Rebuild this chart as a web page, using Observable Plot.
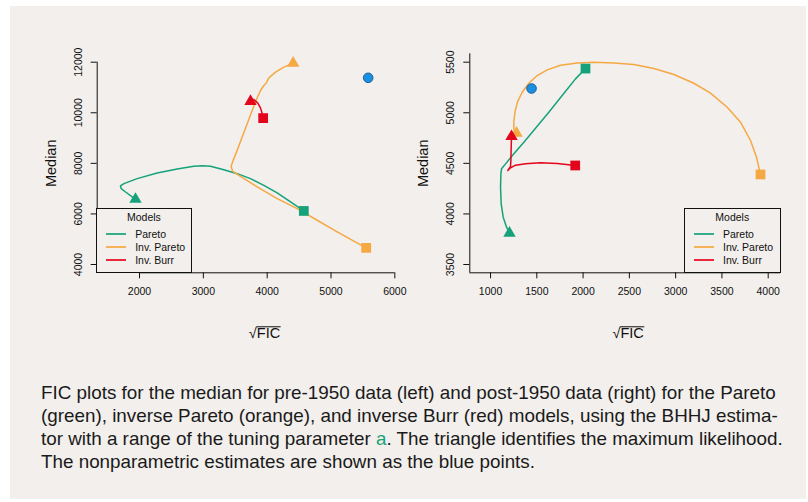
<!DOCTYPE html>
<html>
<head>
<meta charset="utf-8">
<script src="https://cdn.jsdelivr.net/npm/d3@7"></script>
<script src="https://cdn.jsdelivr.net/npm/@observablehq/plot@0.6"></script>
<style>
  body { margin: 0; background: #ffffff; font-family: "Liberation Sans", Arial, Helvetica, sans-serif; }
  #bg { position: absolute; left: 10px; top: 6px; width: 796px; height: 493px; background: #f2efec; }
  .panel { position: absolute; top: 0; }
  .legend { position: absolute; box-sizing: border-box; border: 1px solid #111; background: #f2efec; height: 65px; font-size: 10.5px; color: #111; }
  .legend .ttl { position: absolute; left: 0; right: 0; text-align: center; height: 12px; line-height: 12px; }
  .legend .lbl { position: absolute; height: 12px; line-height: 12px; white-space: nowrap; }
  .legend .sw { position: absolute; height: 2px; width: 20px; }
  #caption { position: absolute; left: 41px; top: 381px; font-size: 16.5px; line-height: 23px; color: #1a1a1a; white-space: nowrap; }
  #caption div { height: 23px; }
  #caption .a { color: #1aa37b; }
</style>
</head>
<body>
<div id="bg"></div>
<div id="left" class="panel" style="left:0px"></div>
<div id="right" class="panel" style="left:404px"></div>
<div id="caption">
  <div><span id="line1">FIC plots for the median for pre-1950 data (left) and post-1950 data (right) for the Pareto</span></div>
  <div>(green), inverse Pareto (orange), and inverse Burr (red) models, using the BHHJ estima-</div>
  <div>tor with a range of the tuning parameter <span class="a">a</span>. The triangle identifies the maximum likelihood.</div>
  <div>The nonparametric estimates are shown as the blue points.</div>
</div>
<script>
const bgColor = "#f2efec";
const models = ["Pareto", "Inv. Pareto", "Inv. Burr"];
const modelColors = ["#15a27a", "#f6a843", "#e3051b"];
const npColor = "#1b8fe2";

// ---------- left panel: pre-1950 ----------
const xTicksL = [2000, 3000, 4000, 5000, 6000];
const yTicksL = [4000, 6000, 8000, 10000, 12000];
const leftPareto = [[1937,6579],[1885,6671],[1781,6868],[1713,7000],[1702,7105],[1755,7197],[1963,7395],[2277,7618],[2590,7776],[2851,7882],[2982,7908],[3112,7882],[3321,7750],[3530,7592],[3739,7395],[3948,7132],[4157,6829],[4366,6474],[4574,6118]];
const leftInvPareto = [[4407,11961],[4261,11803],[4131,11605],[4026,11382],[3984,11171],[3948,11079],[3896,10882],[3843,10592],[3765,10092],[3687,9566],[3608,9039],[3530,8513],[3467,8118],[3436,7882],[3457,7697],[3582,7487],[3843,7066],[4157,6605],[4470,6211],[4783,5750],[5097,5289],[5358,4921],[5551,4658]];
const leftInvBurr = [[3739,10447],[3791,10526],[3854,10382],[3896,10184],[3927,9934],[3937,9789]];
const leftML = [[1937,6579],[4407,11961],[3739,10447]];   // triangles: Pareto, Inv. Pareto, Inv. Burr
const leftEnd = [[4574,6118],[5551,4658],[3937,9789]];    // squares
const leftNonpar = [[5582,11382]];

// ---------- right panel: post-1950 ----------
const xTicksR = [1000, 1500, 2000, 2500, 3000, 3500, 4000];
const yTicksR = [3500, 4000, 4500, 5000, 5500];
const rightPareto = [[1205,3810],[1173,3869],[1137,3968],[1115,4100],[1108,4264],[1112,4396],[1119,4446],[1162,4495],[1252,4594],[1360,4709],[1486,4848],[1630,5006],[1774,5171],[1918,5335],[2026,5437]];
const rightInvPareto = [[1252,4831],[1252,4923],[1267,5022],[1295,5115],[1342,5203],[1414,5292],[1504,5368],[1612,5424],[1756,5470],[1936,5493],[2116,5500],[2333,5493],[2549,5477],[2765,5437],[2981,5378],[3197,5292],[3377,5194],[3557,5055],[3701,4907],[3809,4726],[3874,4561],[3910,4413],[3917,4390]];
const rightInvBurr = [[1227,4765],[1223,4660],[1220,4528],[1216,4469],[1187,4429],[1216,4456],[1270,4482],[1378,4495],[1540,4505],[1720,4498],[1915,4479]];
const rightML = [[1205,3810],[1281,4798],[1227,4765]];
const rightEnd = [[2026,5437],[3917,4390],[1915,4479]];
const rightNonpar = [[1443,5240]];

const font = '"Liberation Sans", Arial, Helvetica, sans-serif';

function panel(o) {
  const marks = [];
  const ax = "#111";
  if (o.box) {
    marks.push(Plot.ruleX([o.xDomain[0]], {stroke: ax}));
    marks.push(Plot.ruleY([o.yDomain[0]], {stroke: ax}));
  } else {
    marks.push(Plot.ruleX([o.xDomain[0]], {y1: d3.min(o.yTicks), y2: d3.max(o.yTicks), stroke: ax}));
    marks.push(Plot.ruleY([o.yDomain[0]], {x1: d3.min(o.xTicks), x2: d3.max(o.xTicks), stroke: ax}));
  }
  marks.push(Plot.axisX({ticks: o.xTicks, tickSize: 6, tickFormat: () => "", label: null, stroke: ax}));
  marks.push(Plot.axisY({ticks: o.yTicks, tickSize: 6, tickFormat: () => "", label: null, stroke: ax}));
  marks.push(Plot.text(o.xTicks, {x: d => d, text: d => String(d), frameAnchor: "bottom", dy: 18.4, lineAnchor: "middle", textAnchor: "middle", fontSize: 10.5, fill: "#111"}));
  marks.push(Plot.text(o.yTicks, {y: d => d, text: d => String(d), frameAnchor: "left", dx: o.yLabDx, rotate: -90, lineAnchor: "middle", textAnchor: "middle", fontSize: 10.5, fill: "#111"}));
  marks.push(Plot.text(["Median"], {frameAnchor: "left", dx: -46, rotate: -90, lineAnchor: "middle", textAnchor: "middle", fontSize: 14.5, fill: "#111"}));
  marks.push(Plot.text(["\u221AFIC"], {frameAnchor: "bottom", dx: o.xLabDx, dy: 61, lineAnchor: "middle", textAnchor: "middle", fontSize: 14.5, fill: "#111"}));
  o.curves.forEach((c, i) => marks.push(Plot.line(c, {x: d => d[0], y: d => d[1], stroke: modelColors[i], strokeWidth: 1.5})));
  o.tri.forEach((p, i) => marks.push(Plot.dot([p], {x: d => d[0], y: d => d[1], symbol: "triangle", r: 4.6, fill: modelColors[i]})));
  o.sq.forEach((p, i) => marks.push(Plot.dot([p], {x: d => d[0], y: d => d[1], symbol: "square", r: 5.5, fill: modelColors[i]})));
  marks.push(Plot.dot(o.np, {x: d => d[0], y: d => d[1], r: 4.8, fill: npColor, stroke: "#1a5f9e", strokeWidth: 1}));
  return Plot.plot({
    width: o.width, height: 350,
    marginLeft: o.mLeft, marginRight: o.mRight, marginTop: 53.3, marginBottom: 77.7,
    x: {domain: o.xDomain, label: null},
    y: {domain: o.yDomain, label: null},
    style: {background: "transparent", fontFamily: font, overflow: "visible", color: "#111"},
    marks
  });
}

function addRadicalBar(svg) {
  svg.querySelectorAll("text").forEach(t => {
    if (t.textContent === "\u221AFIC") {
      const bb = t.getBBox();
      const rw = t.getSubStringLength(0, 1);
      const ns = "http://www.w3.org/2000/svg";
      const ln = document.createElementNS(ns, "line");
      const fs = 14.5;
      const yTop = bb.y + bb.height - 0.21 * fs - 0.80 * fs;
      ln.setAttribute("x1", bb.x + rw - 0.5);
      ln.setAttribute("x2", bb.x + bb.width + 0.5);
      ln.setAttribute("y1", yTop);
      ln.setAttribute("y2", yTop);
      ln.setAttribute("stroke", "#111");
      ln.setAttribute("stroke-width", "1");
      if (t.getAttribute("transform")) ln.setAttribute("transform", t.getAttribute("transform"));
      t.parentNode.appendChild(ln);
    }
  });
}

function legend(container, left, width) {
  const box = document.createElement("div");
  box.className = "legend";
  box.style.left = left + "px";
  box.style.top = "208px";
  box.style.width = width + "px";
  const ttl = document.createElement("div");
  ttl.className = "ttl"; ttl.style.top = (8.7 - 6 - 1) + "px"; ttl.textContent = "Models";
  box.appendChild(ttl);
  const rows = [25.7, 39, 52.3];
  models.forEach((m, i) => {
    const sw = document.createElement("div");
    sw.className = "sw"; sw.style.left = "8.5px"; sw.style.top = (rows[i] - 1 - 1) + "px";
    sw.style.background = modelColors[i]; sw.style.opacity = 0.85;
    box.appendChild(sw);
    const lb = document.createElement("div");
    lb.className = "lbl"; lb.style.left = "38px"; lb.style.top = (rows[i] - 6 - 1) + "px"; lb.textContent = m;
    box.appendChild(lb);
  });
  container.appendChild(box);
}

const L = panel({
  width: 440, mLeft: 96.7, mRight: 8.7,
  xDomain: [1337, 6579], yDomain: [3672, 12332],
  xTicks: xTicksL, yTicks: yTicksL, box: false, yLabDx: -18.4, xLabDx: 0,
  curves: [leftPareto, leftInvPareto, leftInvBurr], tri: leftML, sq: leftEnd, np: leftNonpar
});
document.getElementById("left").appendChild(L);
addRadicalBar(L);

const R = panel({
  width: 404, mLeft: 65.3, mRight: 28,
  xDomain: [776, 4133], yDomain: [3418, 5583],
  xTicks: xTicksR, yTicks: yTicksR, box: true, yLabDx: -19.2, xLabDx: 3,
  curves: [rightPareto, rightInvPareto, rightInvBurr], tri: rightML, sq: rightEnd, np: rightNonpar
});
document.getElementById("right").appendChild(R);
addRadicalBar(R);

legend(document.body, 96.2, 95.5);
legend(document.body, 684, 96.5);

// fit caption width to the reference line length
const l1 = document.getElementById("line1");
const w = l1.getBoundingClientRect().width;
const cap = document.getElementById("caption");
cap.style.fontSize = (16.5 * 735 / w).toFixed(2) + "px";
</script>
</body>
</html>
